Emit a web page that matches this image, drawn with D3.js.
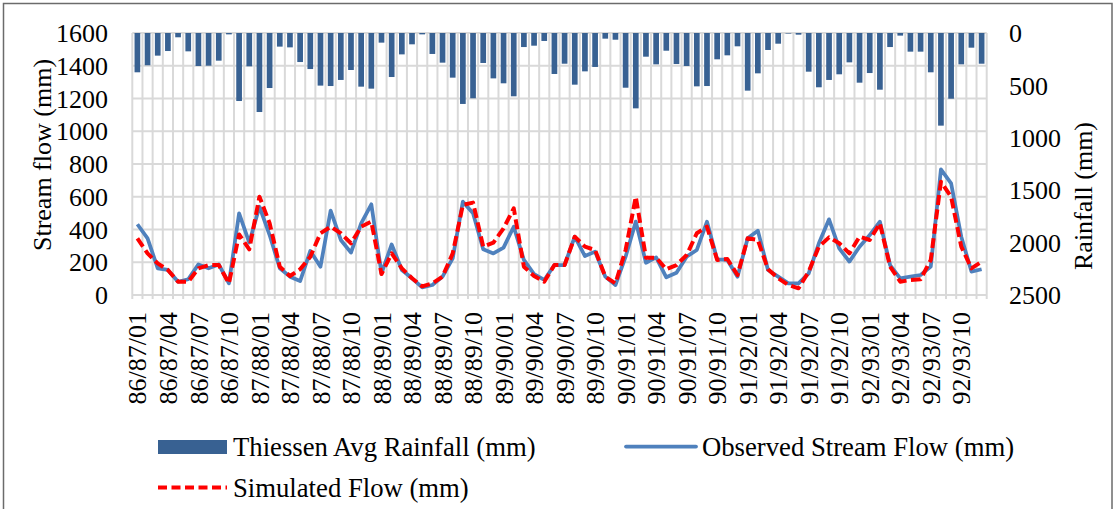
<!DOCTYPE html>
<html>
<head>
<meta charset="utf-8">
<script src="https://cdn.jsdelivr.net/npm/d3@7"></script>
<style>
  html, body { margin: 0; padding: 0; background: #fff; }
  svg { display: block; }
  text { font-family: "Liberation Serif", "Times New Roman", serif; fill: #000; }
</style>
</head>
<body>
<svg id="chart" width="1115" height="509"></svg>
<script>
// ---- data ----
const years = ["86/87", "87/88", "88/89", "89/90", "90/91", "91/92", "92/93"];
const months = ["01", "02", "03", "04", "05", "06", "07", "08", "09", "10", "11", "12"];
const categories = [];
years.forEach(y => months.forEach(m => categories.push(y + "/" + m)));
const tickLabels = categories.filter((d, i) => i % 3 === 0);

const rainfall = [
  375, 308, 216, 172, 41, 175, 315, 312, 264, 13, 649, 318,
  754, 525, 130, 137, 277, 344, 502, 506, 448, 353, 512, 531,
  92, 420, 204, 108, 13, 200, 283, 426, 677, 623, 286, 433,
  480, 604, 134, 121, 76, 391, 293, 493, 366, 324, 54, 64,
  522, 719, 226, 299, 169, 296, 315, 509, 506, 251, 213, 127,
  550, 385, 162, 102, 5, 16, 369, 518, 448, 394, 280, 474,
  382, 541, 134, 25, 178, 178, 375, 884, 627, 299, 140, 293
];
const observed = [
  432, 346, 163, 153, 81, 96, 187, 163, 187, 71, 499, 320,
  539, 366, 163, 112, 85, 269, 173, 515, 336, 259, 438, 554,
  132, 309, 153, 102, 47, 61, 112, 224, 570, 499, 279, 254,
  289, 417, 214, 128, 92, 183, 183, 356, 238, 265, 112, 61,
  234, 448, 197, 230, 108, 136, 234, 275, 448, 218, 214, 112,
  346, 393, 153, 112, 71, 71, 132, 316, 462, 285, 204, 295,
  366, 448, 183, 102, 112, 122, 173, 767, 682, 356, 143, 157
];
const simulated = [
  346, 254, 193, 153, 81, 81, 163, 183, 183, 71, 370, 279,
  600, 438, 173, 116, 157, 234, 377, 417, 377, 316, 417, 448,
  128, 254, 163, 102, 53, 71, 112, 254, 550, 564, 295, 320,
  407, 529, 173, 116, 81, 183, 183, 356, 295, 275, 112, 71,
  275, 600, 228, 228, 157, 183, 244, 377, 417, 214, 220, 122,
  346, 336, 157, 102, 61, 41, 143, 295, 352, 316, 254, 356,
  336, 438, 173, 81, 92, 96, 214, 692, 600, 295, 163, 204
];
const leftTicks = [0, 200, 400, 600, 800, 1000, 1200, 1400, 1600];
const rightTicks = [0, 500, 1000, 1500, 2000, 2500];
const seriesNames = ["Thiessen Avg Rainfall (mm)", "Observed Stream Flow (mm)", "Simulated Flow (mm)"];

// ---- layout ----
const svg = d3.select("#chart");
const plot = { left: 132.3, right: 986.7, top: 33, bottom: 295 };
const FONT = 26;
const LFONT = 26.7;

const colors = { bar: "#386192", obs: "#4F81BD", sim: "#FF0000", grid: "#D9D9D9" };

// outer border
svg.append("rect")
  .attr("x", 3.5).attr("y", 3.5)
  .attr("width", 1108.5).attr("height", 530)
  .attr("fill", "none").attr("stroke", "#6b6b6b").attr("stroke-width", 1.5);

const x = d3.scaleBand().domain(categories).range([plot.left, plot.right]).paddingInner(0).paddingOuter(0);
const xBar = d3.scaleBand().domain(categories).range([plot.left, plot.right]).paddingInner(0.44).paddingOuter(0.22);
const yL = d3.scaleLinear().domain([0, 1600]).range([plot.bottom, plot.top]);
const yR = d3.scaleLinear().domain([0, 2500]).range([plot.top, plot.bottom]);

// grid - horizontal
const grid = svg.append("g");
grid.selectAll("line.h").data(leftTicks).enter().append("line")
  .attr("x1", plot.left).attr("x2", plot.right)
  .attr("y1", d => yL(d)).attr("y2", d => yL(d))
  .attr("stroke", colors.grid).attr("stroke-width", 2);
// grid - vertical at category boundaries
const bounds = categories.map(c => x(c)).concat([plot.right]);
grid.selectAll("line.v").data(bounds).enter().append("line")
  .attr("x1", d => d).attr("x2", d => d)
  .attr("y1", plot.top).attr("y2", plot.bottom + 4)
  .attr("stroke", colors.grid).attr("stroke-width", 2);

// bars (hanging from top, right axis reversed)
svg.append("g").selectAll("rect").data(rainfall).enter().append("rect")
  .attr("x", (d, i) => xBar(categories[i]))
  .attr("width", xBar.bandwidth())
  .attr("y", yR(0))
  .attr("height", d => yR(d) - yR(0))
  .attr("fill", colors.bar);

const cx = i => x(categories[i]) + x.bandwidth() / 2;

// observed line
svg.append("path")
  .datum(observed)
  .attr("d", d3.line().x((d, i) => cx(i)).y(d => yL(d)))
  .attr("fill", "none").attr("stroke", colors.obs).attr("stroke-width", 3.75)
  .attr("stroke-linejoin", "round");

// simulated line
svg.append("path")
  .datum(simulated)
  .attr("d", d3.line().x((d, i) => cx(i)).y(d => yL(d)))
  .attr("fill", "none").attr("stroke", colors.sim).attr("stroke-width", 4)
  .attr("stroke-dasharray", "10,4.5").attr("stroke-linejoin", "round");

// left axis labels
svg.append("g").selectAll("text").data(leftTicks).enter().append("text")
  .attr("x", 108).attr("y", d => yL(d)).attr("dy", "0.35em")
  .attr("text-anchor", "end").attr("font-size", FONT)
  .text(d => d);

// right axis labels
svg.append("g").selectAll("text").data(rightTicks).enter().append("text")
  .attr("x", 1009).attr("y", d => yR(d)).attr("dy", "0.35em")
  .attr("text-anchor", "start").attr("font-size", FONT)
  .text(d => d);

// category tick labels
svg.append("g").selectAll("text").data(tickLabels).enter().append("text")
  .attr("transform", d => `translate(${cx(categories.indexOf(d))},312) rotate(-90)`)
  .attr("dy", "0.35em")
  .attr("text-anchor", "end").attr("font-size", FONT)
  .text(d => d);

// axis titles
svg.append("text")
  .attr("transform", "translate(42,155) rotate(-90)")
  .attr("dy", "0.35em").attr("text-anchor", "middle").attr("font-size", FONT)
  .text("Stream flow (mm)");
svg.append("text")
  .attr("transform", "translate(1083,196) rotate(-90)")
  .attr("dy", "0.35em").attr("text-anchor", "middle").attr("font-size", FONT)
  .text("Rainfall (mm)");

// legend
const lg = svg.append("g");
lg.append("rect").attr("x", 158).attr("y", 440).attr("width", 69).attr("height", 14).attr("fill", colors.bar);
lg.append("text").attr("x", 233).attr("y", 456).attr("font-size", LFONT).text(seriesNames[0]);
lg.append("line").attr("x1", 626).attr("x2", 696).attr("y1", 446.5).attr("y2", 446.5)
  .attr("stroke", colors.obs).attr("stroke-width", 3.75).attr("stroke-linecap", "round");
lg.append("text").attr("x", 702).attr("y", 456).attr("font-size", LFONT).text(seriesNames[1]);
lg.append("line").attr("x1", 158).attr("x2", 227).attr("y1", 487.5).attr("y2", 487.5)
  .attr("stroke", colors.sim).attr("stroke-width", 4).attr("stroke-dasharray", "9,4.5");
lg.append("text").attr("x", 233).attr("y", 497).attr("font-size", LFONT).text(seriesNames[2]);
</script>
</body>
</html>
